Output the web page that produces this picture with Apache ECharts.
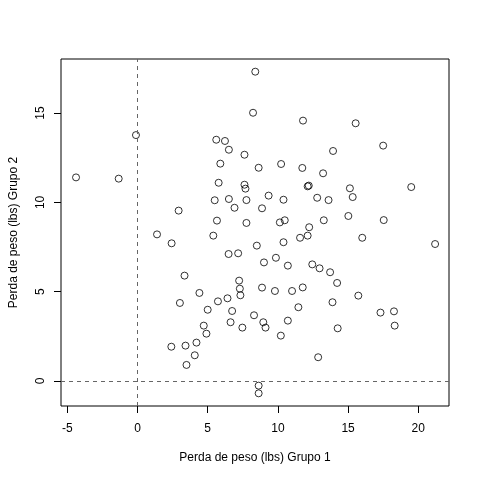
<!DOCTYPE html>
<html>
<head>
<meta charset="utf-8">
<script src="https://cdn.jsdelivr.net/npm/echarts@6/dist/echarts.min.js"></script>
<style>
  html, body { margin: 0; padding: 0; background: #fff; }
  #chart { width: 480px; height: 480px; }
</style>
</head>
<body>
<div id="chart"></div>
<script>
// weight loss, group 1 (x) vs group 2 (y)
const grupo1 = [
  8.39, 8.23, -0.11, 5.61, 6.23, 6.51, 7.62, 5.90, -4.38, -1.34,
  5.78, 7.62, 7.69, 5.50, 6.51, 7.76, 6.91, 2.93, 5.66, 7.76,
  1.39, 5.40, 8.63, 11.79, 15.54, 17.50, 13.93, 10.23, 11.74, 13.22,
  12.12, 12.20, 15.13, 19.50, 9.34, 10.40, 12.80, 13.61, 15.33, 8.87,
  10.14, 10.49, 13.27, 15.02, 17.54, 12.23, 12.12, 8.50, 10.40, 11.58,
  16.01, 21.20, 9.01, 9.86, 10.71, 12.45, 12.97, 13.72, 14.22, 8.87,
  9.79, 11.01, 11.77, 15.73, 11.46, 13.89, 17.31, 18.27, 18.32, 8.30,
  8.96, 9.12, 10.71, 10.21, 14.26, 12.87, 8.63, 8.63, 2.43, 6.49,
  7.17, 3.35, 7.24, 7.29, 7.33, 4.41, 3.02, 5.73, 6.41, 5.00,
  6.74, 6.63, 7.47, 4.72, 4.91, 2.41, 3.42, 4.20, 4.08, 3.49
];
const grupo2 = [
  17.32, 15.02, 13.77, 13.51, 13.44, 12.95, 12.67, 12.17, 11.40, 11.33,
  11.10, 10.99, 10.77, 10.12, 10.19, 10.13, 9.70, 9.54, 8.98, 8.85,
  8.21, 8.14, 11.94, 14.58, 14.43, 13.18, 12.88, 12.15, 11.93, 11.63,
  10.90, 10.94, 10.79, 10.86, 10.38, 10.15, 10.26, 10.13, 10.30, 9.67,
  8.88, 9.00, 9.00, 9.24, 9.01, 8.61, 8.14, 7.58, 7.77, 8.02,
  8.02, 7.67, 6.64, 6.90, 6.46, 6.53, 6.31, 6.09, 5.49, 5.23,
  5.04, 5.04, 5.24, 4.78, 4.13, 4.41, 3.83, 3.90, 3.10, 3.68,
  3.29, 2.99, 3.38, 2.54, 2.95, 1.33, -0.26, -0.69, 7.71, 7.11,
  7.15, 5.90, 5.62, 5.17, 4.80, 4.93, 4.37, 4.46, 4.63, 3.99,
  3.92, 3.29, 2.99, 3.10, 2.65, 1.92, 1.98, 2.15, 1.44, 0.90
];
const xTicks = [-5, 0, 5, 10, 15, 20];
const yTicks = [0, 5, 10, 15];
const refX = 0;
const refY = 0;

const pontos = grupo1.map((v, i) => [v, grupo2[i]]);

const chart = echarts.init(document.getElementById('chart'));
const txt = { color: '#000', fontFamily: 'Liberation Sans', fontSize: 12 };

const option = {
  backgroundColor: '#fff',
  animation: false,
  textStyle: txt,
  grid: {
    left: 58, right: 31, top: 59, bottom: 74,
    show: true,
    borderColor: '#000',
    borderWidth: 1
  },
  xAxis: {
    type: 'value',
    min: -5.45,
    max: 22.19,
    name: 'Perda de peso (lbs) Grupo 1',
    nameLocation: 'middle',
    nameGap: 46,
    nameTextStyle: txt,
    axisLine: { show: false, onZero: false },
    splitLine: { show: false },
    axisTick: { show: true, inside: false, length: 7, customValues: xTicks, lineStyle: { color: '#000' } },
    axisLabel: { customValues: xTicks, margin: 17, ...txt }
  },
  yAxis: {
    type: 'value',
    min: -1.40,
    max: 18.03,
    name: 'Perda de peso (lbs) Grupo 2',
    nameLocation: 'middle',
    nameGap: 41,
    nameTextStyle: txt,
    axisLine: { show: false, onZero: false },
    splitLine: { show: false },
    axisTick: { show: true, inside: false, length: 7, customValues: yTicks, lineStyle: { color: '#000' } },
    axisLabel: { customValues: yTicks, rotate: 90, margin: 14, ...txt }
  },
  series: [{
    type: 'scatter',
    data: pontos,
    symbol: 'circle',
    symbolSize: 7,
    itemStyle: { color: 'rgba(0,0,0,0)', borderColor: '#000', borderWidth: 1 },
    markLine: {
      silent: true,
      symbol: 'none',
      label: { show: false },
      lineStyle: { color: '#666', type: [4, 4], width: 1 },
      data: [{ xAxis: refX }, { yAxis: refY }]
    }
  }]
};
chart.setOption(option);
</script>
</body>
</html>
